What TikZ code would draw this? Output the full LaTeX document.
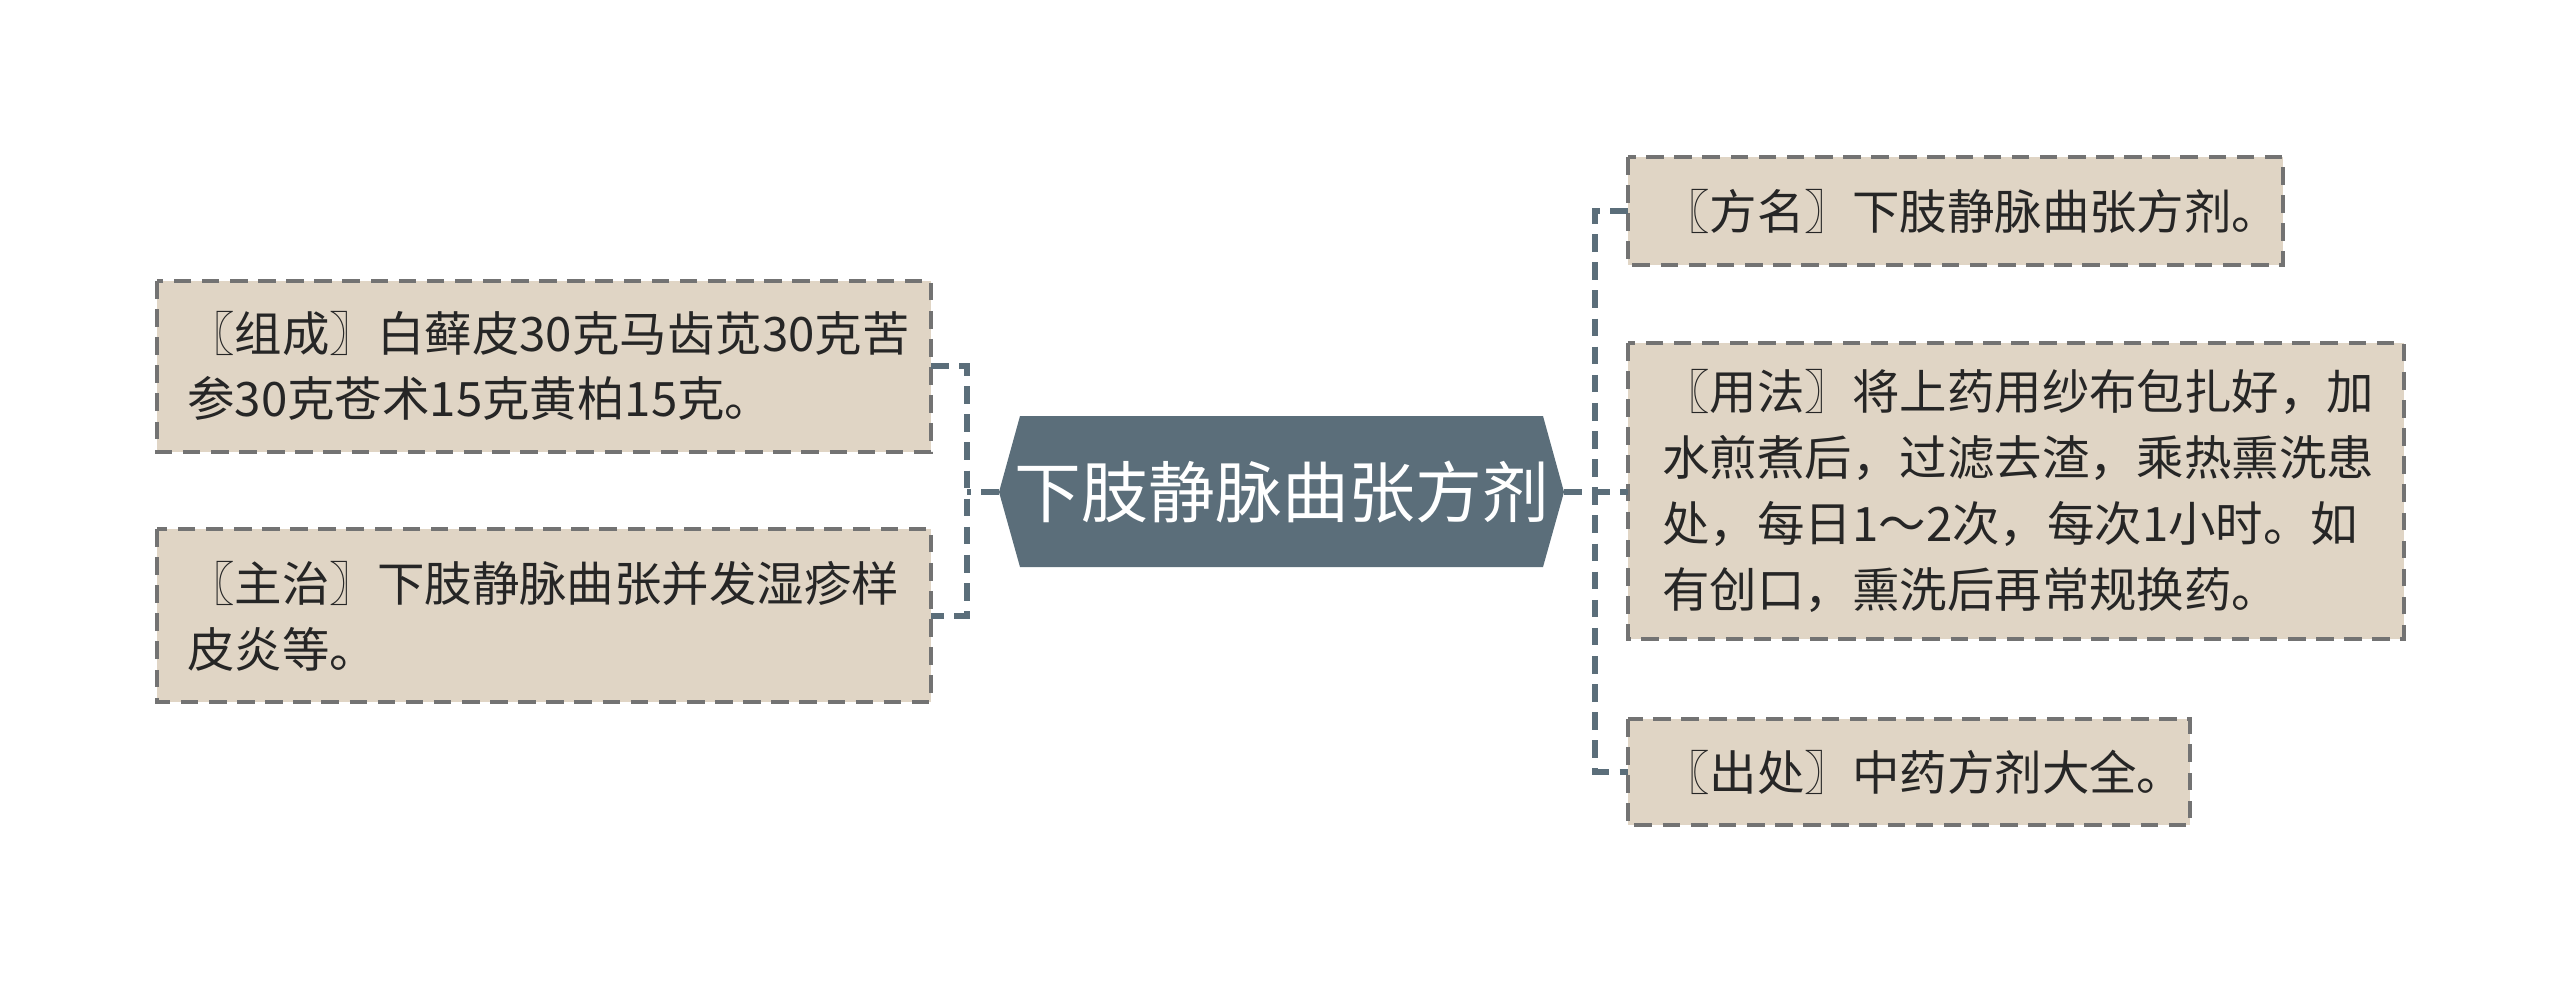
\documentclass[tikz,border=0pt]{standalone}
\usepackage{fontspec}
\setmainfont{Noto Sans CJK SC}
\begin{document}
\begin{tikzpicture}[x=1cm,y=-1cm,
  box/.style={draw=gray!90!black,dash pattern=on 5pt off 3pt,line width=0.9pt,fill=boxfill,inner sep=0pt},
  txt/.style={font=\fontsize{13.5pt}{18.7pt}\selectfont,text=black!85,align=left,anchor=west},
  conn/.style={draw=linec,line width=1.8pt,dash pattern=on 5pt off 3pt}]
\definecolor{boxfill}{HTML}{E0D5C5}
\definecolor{linec}{HTML}{5B6E7A}
\useasboundingbox (0,0) rectangle (25.6,9.83);
% center
\fill[linec] (10.2,4.16) -- (15.43,4.16) -- (15.64,4.92) -- (15.43,5.67) -- (10.2,5.67) -- (9.99,4.92) -- cycle;
\node[font=\fontsize{19pt}{22pt}\selectfont,text=white] (c) at (12.82,4.92) {下肢静脉曲张方剂};
\coordinate (cl) at (9.99,4.92);
\coordinate (cr) at (15.64,4.92);
% left boxes
\draw[box] (1.57,2.81) rectangle (9.31,4.52);
\node[txt] (l1) at (1.75,3.66) {〖组成〗白藓皮30克马齿苋30克苦\\参30克苍术15克黄柏15克。};
\draw[box] (1.57,5.29) rectangle (9.31,7.02);
\node[txt] (l2) at (1.75,6.16) {〖主治〗下肢静脉曲张并发湿疹样\\皮炎等。};
% right boxes
\draw[box] (16.28,1.57) rectangle (22.83,2.65);
\node[txt] (r1) at (16.5,2.11) {〖方名〗下肢静脉曲张方剂。};
\draw[box] (16.28,3.43) rectangle (24.04,6.39);
\node[txt] (r2) at (16.5,4.91) {〖用法〗将上药用纱布包扎好，加\\水煎煮后，过滤去渣，乘热熏洗患\\处，每日1～2次，每次1小时。如\\有创口，熏洗后再常规换药。};
\draw[box] (16.28,7.19) rectangle (21.90,8.25);
\node[txt] (r3) at (16.5,7.72) {〖出处〗中药方剂大全。};
% connectors
\draw[conn] (cl) -- (9.67,4.92);
\draw[conn] (9.31,3.66) -- (9.67,3.66) -- (9.67,6.16) -- (9.31,6.16);
\draw[conn] (cr) -- (15.95,4.92) -- (16.28,4.92);
\draw[conn] (16.28,2.11) -- (15.95,2.11) -- (15.95,7.72) -- (16.28,7.72);
\end{tikzpicture}
\end{document}
